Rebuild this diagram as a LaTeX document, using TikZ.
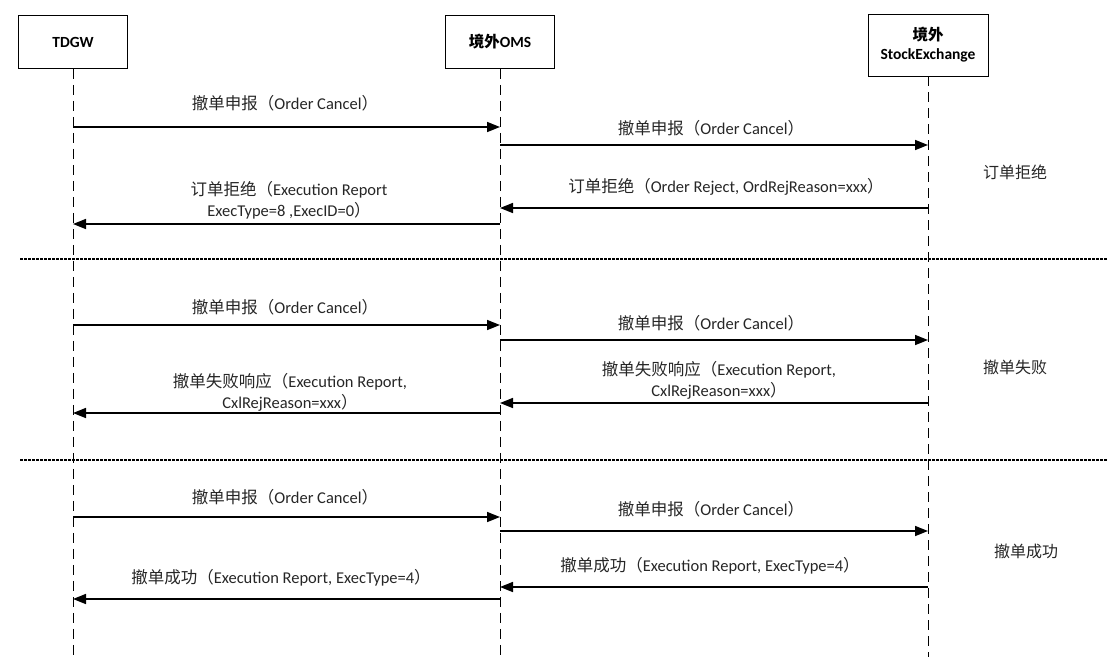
\documentclass[tikz,border=0pt]{standalone}
\usepackage{fontspec}
\setmainfont{Carlito}
\newfontfamily\cjk{Noto Sans CJK SC}
\usetikzlibrary{arrows.meta}
\newcommand{\zh}[1]{{\cjk #1}}
\tikzset{
  actor/.style={draw, line width=0.9pt, fill=white, minimum width=109pt,
                minimum height=53pt, align=center,
                font=\fontsize{15.5}{19}\selectfont\bfseries},
  lifeline/.style={line width=1pt, dash pattern=on 10pt off 6pt},
  msg/.style={line width=1.6pt, -{Triangle[length=13pt,width=10pt]}},
  msglabel/.style={font=\fontsize{16.5}{21}\selectfont, align=center,
                   inner sep=0pt, text=black!85},
  sidelabel/.style={font=\fontsize{16}{18}\selectfont, inner sep=0pt,
                    text=black!85},
  divider/.style={line width=1.2pt, dash pattern=on 2.5pt off 1.5pt}
}

\begin{document}
\begin{tikzpicture}[x=1pt,y=-1pt]
\useasboundingbox (0,0) rectangle (1108,657);

% actors
\node [actor] (tdgw) at (73,42) {TDGW};
\node [actor] (oms) at (500,42) {\zh{境外}OMS};
\node [actor, minimum width=120pt, minimum height=62pt] (sx) at (928,45)
      {\zh{境外}\\StockExchange};

% lifelines
\foreach \a/\x in {tdgw/73, oms/500, sx/928}
	\coordinate (\a-end) at (\x,657);
\draw [lifeline] (tdgw) -- (tdgw-end);
\draw [lifeline] (oms) -- (oms-end);
\draw [lifeline] (sx) -- (sx-end);

% message rows
\foreach \n/\y in {a/127, b/145, c/208, d/224, e/325, f/340, g/403, h/413,
                   i/517, j/531, k/587, l/599} {
	\coordinate (tdgw-\n) at (73,\y);
	\coordinate (oms-\n) at (500,\y);
	\coordinate (sx-\n) at (928,\y);
}

% section dividers
\coordinate (div1-w) at (20,259);
\coordinate (div1-e) at (1108,259);
\coordinate (div2-w) at (20,460);
\coordinate (div2-e) at (1108,460);
\draw [divider] (div1-w) -- (div1-e);
\draw [divider] (div2-w) -- (div2-e);

% order reject
\draw [msg] (tdgw-a) -- (oms-a);
\draw [msg] (oms-b) -- (sx-b);
\draw [msg] (sx-c) -- (oms-c);
\draw [msg] (oms-d) -- (tdgw-d);
\node [msglabel] (la) at (285,103) {\zh{撤单申报（}Order Cancel\zh{）}};
\node [msglabel] (lb) at (711,128) {\zh{撤单申报（}Order Cancel\zh{）}};
\node [msglabel] (lc) at (726,187)
      {\zh{订单拒绝（}Order Reject, OrdRejReason=xxx\zh{）}};
\node [msglabel] (ld) at (289,200.5)
      {\zh{订单拒绝（}Execution Report\\ExecType=8 ,ExecID=0\zh{）}};
\node [sidelabel] (reject) at (1015,172) {\zh{订单拒绝}};

% cancel failed
\draw [msg] (tdgw-e) -- (oms-e);
\draw [msg] (oms-f) -- (sx-f);
\draw [msg] (sx-g) -- (oms-g);
\draw [msg] (oms-h) -- (tdgw-h);
\node [msglabel] (le) at (285,307) {\zh{撤单申报（}Order Cancel\zh{）}};
\node [msglabel] (lf) at (711,323) {\zh{撤单申报（}Order Cancel\zh{）}};
\node [msglabel] (lg) at (719,380)
      {\zh{撤单失败响应（}Execution Report,\\CxlRejReason=xxx\zh{）}};
\node [msglabel] (lh) at (290,392.5)
      {\zh{撤单失败响应（}Execution Report,\\CxlRejReason=xxx\zh{）}};
\node [sidelabel] (failed) at (1015,367) {\zh{撤单失败}};

% cancel succeeded
\draw [msg] (tdgw-i) -- (oms-i);
\draw [msg] (oms-j) -- (sx-j);
\draw [msg] (sx-k) -- (oms-k);
\draw [msg] (oms-l) -- (tdgw-l);
\node [msglabel] (li) at (285,497) {\zh{撤单申报（}Order Cancel\zh{）}};
\node [msglabel] (lj) at (711,509) {\zh{撤单申报（}Order Cancel\zh{）}};
\node [msglabel] (lk) at (710,566)
      {\zh{撤单成功（}Execution Report, ExecType=4\zh{）}};
\node [msglabel] (ll) at (281,578)
      {\zh{撤单成功（}Execution Report, ExecType=4\zh{）}};
\node [sidelabel] (success) at (1026,551) {\zh{撤单成功}};

\end{tikzpicture}
\end{document}
